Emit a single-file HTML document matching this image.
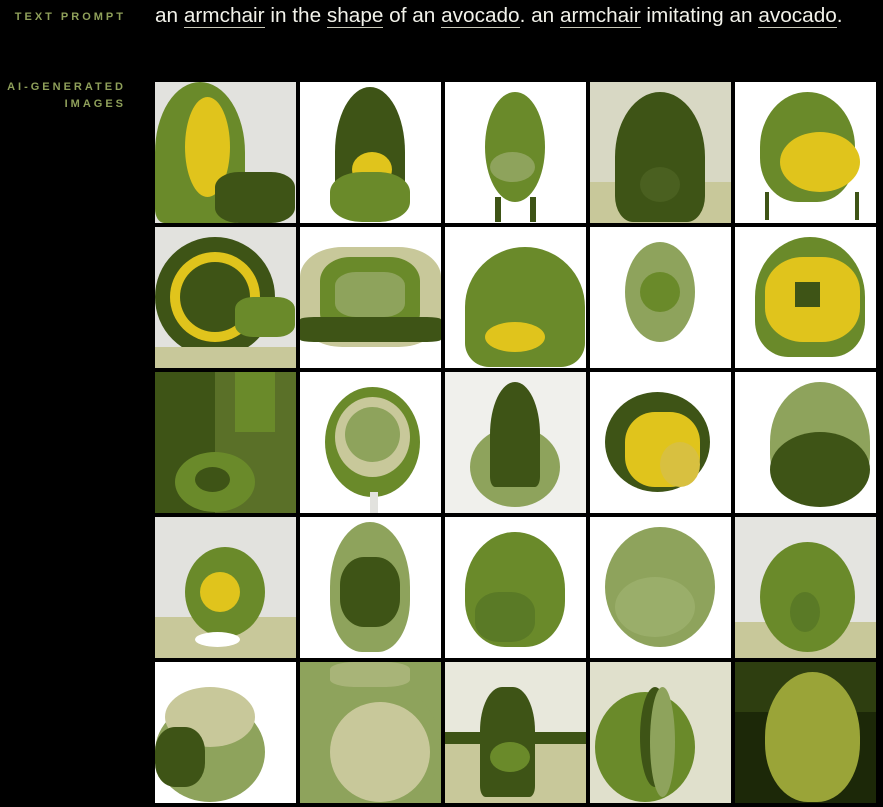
<!DOCTYPE html>
<html><head><meta charset="utf-8"><style>
body{margin:0;background:#000;width:883px;height:807px;overflow:hidden;position:relative;font-family:"Liberation Sans",sans-serif}
.lbl{position:absolute;right:757px;color:#8fa05a;font-weight:900;font-size:11px;letter-spacing:3px;text-align:right;line-height:17px}
#prompt{position:absolute;left:155px;top:4px;color:#f2f2ea;font-size:20.75px;white-space:nowrap}
#prompt u{text-decoration:none;border-bottom:1px solid #c8c8b8}
.cell{position:absolute;width:141px;height:141px;overflow:hidden}
.s{position:absolute}
</style></head><body>
<div class="lbl" style="top:9px">TEXT PROMPT</div>
<div class="lbl" style="top:79px">AI-GENERATED<br>IMAGES</div>
<div id="prompt">an <u>armchair</u> in the <u>shape</u> of an <u>avocado</u>. an <u>armchair</u> imitating an <u>avocado</u>.</div>
<div id="grid"></div>
<script>
var D='#3e5416',M='#6a8a2a',L='#8ea35c',P='#c8c89a',Y='#e0c41c',W='#fff',G='#e2e2de';
// each cell: background, shapes [left,top,width,height,color,radius]
var cells=[
[G,[[0,0,90,141,M,'50% 50% 10% 10%'],[30,15,45,100,Y,'50%'],[60,90,80,51,D,'30%']]],
[W,[[35,5,70,130,D,'50% 50% 20% 20%'],[52,70,40,35,Y,'50%'],[30,90,80,50,M,'40%']]],
[W,[[40,10,60,110,M,'50%'],[45,70,45,30,L,'50%'],[50,115,6,25,D,'0'],[85,115,6,25,D,'0']]],
['#d8d8c4',[[0,100,141,41,P,'0'],[25,10,90,130,D,'50% 50% 20% 20%'],[50,85,40,35,'#4a6020','50%']]],
[W,[[25,10,95,110,M,'50% 50% 40% 40%'],[45,50,80,60,Y,'50%'],[30,110,4,28,D,'0'],[120,110,4,28,D,'0']]],
[G,[[0,10,120,120,D,'50%'],[15,25,90,90,Y,'50%'],[25,35,70,70,D,'50%'],[80,70,60,40,M,'30%'],[0,120,141,21,P,'0']]],
[W,[[0,20,141,100,P,'30%'],[20,30,100,80,M,'30%'],[35,45,70,45,L,'30%'],[0,90,141,25,D,'10%']]],
[W,[[20,20,120,120,M,'50% 50% 20% 20%'],[40,95,60,30,Y,'50%']]],
[W,[[35,15,70,100,L,'50%'],[50,45,40,40,M,'50%']]],
[W,[[20,10,110,120,M,'50% 50% 30% 30%'],[30,30,95,85,Y,'40%'],[60,55,25,25,D,'0']]],
['#5a7028',[[0,0,60,141,D,'0'],[80,0,40,60,M,'0'],[20,80,80,60,M,'50%'],[40,95,35,25,D,'50%']]],
[W,[[25,15,95,110,M,'50%'],[35,25,75,80,P,'50%'],[45,35,55,55,L,'50%'],[70,120,8,21,G,'0']]],
['#f0f0ec',[[25,55,90,80,L,'50%'],[45,10,50,105,D,'50% 50% 10% 10%']]],
[W,[[15,20,105,100,D,'50%'],[35,40,75,75,Y,'40%'],[70,70,40,45,'#d8c040','50%']]],
[W,[[35,10,100,120,L,'50% 50% 40% 40%'],[35,60,100,75,D,'50%'],[60,120,40,12,D,'50%']]],
[G,[[0,100,141,41,P,'0'],[30,30,80,90,M,'50%'],[45,55,40,40,Y,'50%'],[40,115,45,15,W,'50%']]],
[W,[[30,5,80,130,L,'50% 50% 40% 40%'],[40,40,60,70,D,'40%']]],
[W,[[20,15,100,115,M,'50% 50% 40% 40%'],[30,75,60,50,'#5a7a26','40%']]],
[W,[[15,10,110,120,L,'50%'],[25,60,80,60,'#9aae6a','50%']]],
['#e4e4e0',[[0,105,141,36,P,'0'],[25,25,95,110,M,'50%'],[55,75,30,40,'#5a7a26','50%']]],
[W,[[0,40,110,100,L,'50%'],[10,25,90,60,P,'50%'],[0,65,50,60,D,'40%']]],
['#8ea35c',[[20,20,120,130,L,'50%'],[30,40,100,100,P,'50%'],[30,0,80,25,'#a8b478','30%']]],
['#e8e8dc',[[0,70,141,71,P,'0'],[0,70,141,12,D,'0'],[35,25,55,110,D,'40% 40% 10% 10%'],[45,80,40,30,M,'50%']]],
['#e0e0cc',[[5,30,100,110,M,'50%'],[50,25,30,100,D,'50%'],[60,25,25,110,L,'50%']]],
['#1c2808',[[0,0,141,50,'#2e3e10','0'],[30,10,95,130,'#9aa438','50% 50% 45% 45%']]]
];
var g=document.getElementById('grid');
cells.forEach(function(c,i){
  var d=document.createElement('div');d.className='cell';
  
  
  d.style.left=(155+145*(i%5))+'px';d.style.top=(82+145*Math.floor(i/5))+'px';d.style.background=c[0];
  c[1].forEach(function(s){var e=document.createElement('div');e.className='s';
    
    
    e.style.left=s[0]+'px';e.style.top=s[1]+'px';e.style.width=s[2]+'px';e.style.height=s[3]+'px';e.style.background=s[4];e.style.borderRadius=s[5];d.appendChild(e);});
  g.appendChild(d);
});
</script>
</body></html>
